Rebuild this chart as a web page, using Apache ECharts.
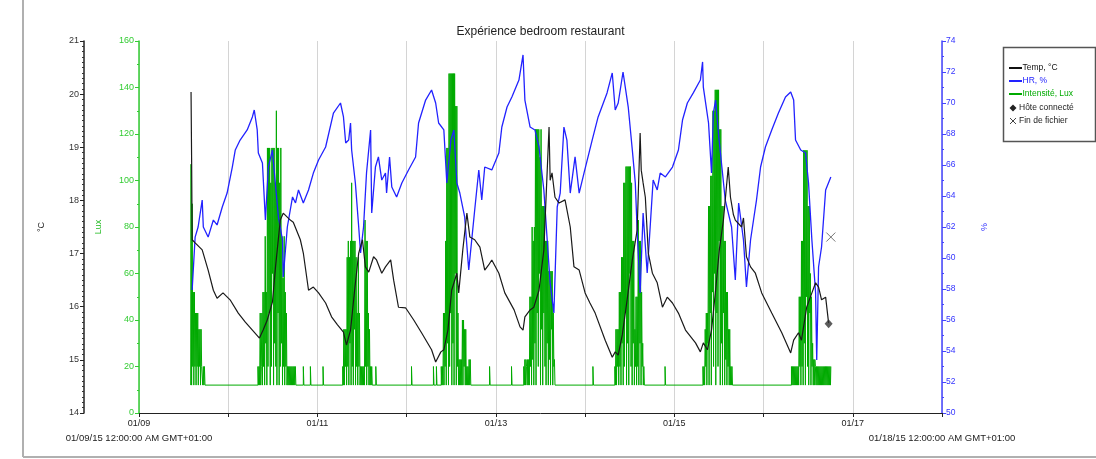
<!DOCTYPE html>
<html><head><meta charset="utf-8">
<script src="https://cdn.jsdelivr.net/npm/echarts@6/dist/echarts.min.js"></script>
<style>html,body{margin:0;padding:0;background:#fff}#c{width:1096px;height:459px}</style>
</head><body><div id="c"></div>
<script>
const chartTitle = 'Expérience bedroom restaurant';
const xTickLabels = ['01/09','','01/11','','01/13','','01/15','','01/17',''];
const xStartLabel = '01/09/15 12:00:00 AM GMT+01:00';
const xEndLabel = '01/18/15 12:00:00 AM GMT+01:00';
const seriesNames = ['Temp, °C','HR, %','Intensité, Lux','Hôte connecté','Fin de fichier'];
const axisNames = ['°C','Lux','%'];
// x values: hours since 01/09/15 00:00
const tempData = [
[14.0,20.04],[14.15,18.8],[14.3,17.26],[15.1,17.20],[17.0,17.07],[18.6,16.69],[20.0,16.31],[21.0,16.16],[22.6,16.26],[24.5,16.13],[26.7,15.88],[28.6,15.71],[30.5,15.56],[32.4,15.41],[33.4,15.56],[34.5,15.75],[35.9,16.09],[36.7,16.73],[38.0,17.63],[38.8,17.76],[40.7,17.63],[41.5,17.59],[43.4,17.26],[44.2,17.01],[45.6,16.31],[46.9,16.37],[48.3,16.26],[50.2,16.07],[51.8,15.81],[53.4,15.66],[55.0,15.52],[55.8,15.28],[56.9,15.56],[58.0,16.31],[59.1,17.01],[60.1,17.26],[60.9,16.75],[61.8,16.65],[63.1,16.94],[63.9,16.88],[65.3,16.63],[66.3,16.75],[67.7,16.88],[68.5,16.50],[69.8,15.99],[71.7,15.98],[73.9,15.75],[76.0,15.51],[78.7,15.19],[79.8,14.96],[81.2,15.15],[82.0,15.19],[83.1,15.56],[84.1,16.31],[85.5,16.63],[86.0,16.26],[87.1,17.07],[88.2,17.76],[89.0,17.31],[90.3,17.26],[91.7,17.12],[93.0,16.69],[94.1,16.79],[94.9,16.88],[96.8,16.63],[98.4,16.26],[100.9,15.94],[102.5,15.62],[103.3,15.56],[103.8,15.81],[105.2,15.94],[106.2,15.99],[107.6,16.31],[108.9,17.07],[110.3,19.38],[110.6,18.38],[111.1,18.52],[111.9,18.06],[113.0,17.95],[114.6,18.01],[116.0,17.50],[117.0,16.75],[118.4,16.69],[120.0,16.26],[121.3,16.07],[122.7,15.88],[125.4,15.37],[127.3,15.05],[128.1,15.15],[128.9,15.09],[130.0,15.47],[131.3,16.13],[132.7,16.88],[134.0,17.44],[134.8,19.27],[135.1,18.57],[135.6,18.33],[136.2,18.06],[137.0,17.01],[138.1,16.63],[139.4,16.45],[140.8,15.99],[142.1,16.18],[143.5,16.07],[145.1,15.88],[147.0,15.56],[149.7,15.32],[151.0,15.15],[151.8,15.32],[152.9,15.19],[154.0,15.56],[155.1,16.31],[156.1,17.07],[157.2,17.63],[158.5,18.63],[159.1,18.06],[159.9,17.73],[160.4,17.63],[162.1,17.50],[162.6,17.67],[163.4,16.94],[164.5,16.75],[165.8,16.63],[167.5,16.26],[170.2,15.88],[172.9,15.51],[175.3,15.13],[176.1,15.37],[177.4,15.51],[178.2,15.37],[179.6,15.99],[181.0,16.26],[182.0,16.45],[182.8,16.37],[183.6,16.13],[184.7,16.18],[185.5,15.69]
];
const humidityData = [
[14.3,57.94],[15.1,61.35],[15.9,62.0],[17.0,63.74],[17.3,62.0],[18.6,61.35],[20.0,62.45],[21.0,62.13],[22.4,63.29],[23.7,64.19],[25.1,65.87],[25.9,66.97],[27.2,67.61],[29.1,68.26],[30.5,69.10],[31.0,69.55],[31.8,68.26],[32.1,66.77],[33.2,66.13],[34.0,62.45],[34.8,65.87],[35.9,66.97],[36.1,66.32],[37.5,62.65],[38.6,61.16],[38.8,58.77],[39.9,62.0],[41.3,63.94],[42.1,63.55],[42.9,64.39],[44.2,63.55],[45.6,64.39],[46.9,65.48],[48.3,66.32],[50.2,67.16],[52.3,69.35],[54.2,70.0],[55.0,69.10],[55.6,67.42],[56.4,67.61],[56.9,68.71],[57.2,66.97],[58.2,64.84],[59.1,62.0],[59.6,60.32],[60.4,62.0],[61.2,65.48],[62.3,68.26],[62.6,62.90],[63.6,65.87],[64.4,66.52],[65.3,65.03],[66.3,65.48],[66.6,64.19],[67.4,66.52],[68.0,64.58],[69.3,63.94],[70.7,64.84],[72.5,65.68],[74.4,66.52],[75.2,68.71],[77.1,70.19],[78.7,70.84],[79.8,70.0],[80.6,68.71],[82.0,68.26],[82.8,64.84],[83.9,67.61],[84.7,68.26],[85.5,64.84],[86.3,64.19],[87.6,62.65],[88.7,59.23],[89.5,61.16],[90.3,63.10],[91.4,65.68],[92.2,63.74],[93.0,65.87],[94.9,65.68],[96.8,66.77],[97.6,68.45],[99.0,69.74],[100.3,70.39],[102.2,71.48],[103.3,73.10],[103.8,70.19],[105.2,68.45],[106.5,68.26],[107.6,67.16],[108.9,64.39],[109.8,61.16],[110.6,58.39],[111.6,56.45],[112.5,63.29],[113.3,64.19],[114.3,68.45],[115.1,67.61],[116.0,64.19],[117.3,66.52],[118.4,64.19],[119.7,65.48],[121.9,67.61],[123.5,69.10],[125.9,70.65],[127.3,71.94],[128.1,69.55],[128.9,70.0],[130.2,72.0],[131.6,69.74],[132.7,66.97],[133.5,64.84],[134.0,61.81],[134.8,57.74],[135.6,62.90],[136.7,59.03],[137.5,62.0],[138.3,65.03],[139.4,64.39],[140.2,65.48],[141.6,65.23],[143.5,65.87],[145.1,66.97],[146.2,68.90],[147.5,70.0],[149.1,70.65],[151.0,71.48],[151.6,72.65],[151.8,71.03],[153.2,68.71],[154.0,65.48],[154.5,69.35],[155.1,70.19],[155.9,67.94],[157.7,63.74],[159.4,62.0],[160.4,58.58],[161.3,63.55],[162.6,61.16],[163.4,58.13],[164.5,61.16],[165.3,62.45],[166.1,63.74],[167.2,65.87],[168.5,67.16],[170.2,68.26],[172.0,69.35],[173.9,70.39],[175.3,70.71],[176.1,70.19],[176.6,67.61],[178.0,66.97],[179.3,66.77],[180.1,64.84],[181.0,61.16],[182.0,57.74],[182.3,53.42],[182.8,59.42],[183.6,60.71],[184.7,64.39],[186.1,65.23]
];
const luxData = [
[13.9,12],[14.0,107],[14.15,12],[14.3,90],[14.45,20],[14.6,52],[14.75,12],[14.9,52],[15.05,20],[15.2,43],[15.35,12],[15.5,43],[15.65,20],[15.8,43],[15.95,12],[16.1,36],[16.25,20],[16.4,36],[16.55,12],[16.7,36],[16.85,20],[17.0,20],[17.15,12],[17.3,20],[17.45,12],[17.6,20],[17.75,12],
[32.0,20],[32.15,12],[32.3,20],[32.45,12],[32.6,43],[32.75,12],[32.9,20],[33.05,43],[33.2,12],[33.35,52],[33.5,20],[33.65,52],[33.8,12],[33.95,76],[34.1,30],[34.25,52],[34.4,12],[34.55,114],[34.7,20],[34.85,114],[35.0,43],[35.15,114],[35.3,12],[35.45,99],[35.6,20],[35.75,114],[35.9,60],[36.05,114],[36.2,12],[36.35,114],[36.5,30],[36.65,99],[36.8,20],[36.95,130],[37.1,12],[37.25,114],[37.4,43],[37.55,114],[37.7,12],[37.85,99],[38.0,20],[38.15,114],[38.3,30],[38.45,76],[38.6,12],[38.75,58],[38.9,20],[39.05,76],[39.2,12],[39.35,52],[39.5,20],[39.65,43],[39.8,12],[39.95,20],[40.1,12],[40.25,20],[40.4,12],[40.55,20],[40.7,12],[40.85,20],[41.0,12],[41.15,20],[41.3,12],[41.45,20],[41.6,12],[41.75,20],[41.9,12],[42.05,20],[42.2,12],
[44.2,20],[44.35,12],[46.1,20],[46.25,12],[49.5,20],[49.65,12],
[54.8,20],[54.95,12],[55.1,36],[55.25,12],[55.4,36],[55.55,20],[55.7,36],[55.85,12],[56.0,67],[56.15,20],[56.3,74],[56.45,12],[56.6,67],[56.75,30],[56.9,74],[57.05,12],[57.2,99],[57.35,20],[57.5,74],[57.65,12],[57.8,74],[57.95,36],[58.1,74],[58.25,12],[58.4,67],[58.55,20],[58.7,43],[58.85,12],[59.0,67],[59.15,20],[59.3,43],[59.45,12],[59.6,20],[59.75,12],[59.9,20],[60.05,12],[60.2,20],[60.35,12],[60.5,20],[60.65,12],[60.8,83],[60.95,20],[61.1,74],[61.25,12],[61.4,74],[61.55,20],[61.7,43],[61.85,12],[62.0,36],[62.15,12],[62.3,20],[62.45,12],[62.6,20],[62.75,12],
[63.7,20],[63.85,12],[73.3,20],[73.45,12],[79.2,20],[79.35,12],[80.0,20],[80.15,12],
[81.3,20],[81.45,12],[81.6,20],[81.75,12],[81.9,43],[82.05,12],[82.2,43],[82.35,20],[82.5,74],[82.65,12],[82.8,114],[82.95,30],[83.1,114],[83.25,12],[83.4,146],[83.55,20],[83.7,146],[83.85,43],[84.0,146],[84.15,12],[84.3,146],[84.45,30],[84.6,146],[84.75,12],[84.9,146],[85.05,60],[85.2,132],[85.35,12],[85.5,132],[85.65,20],[85.8,43],[85.95,12],[86.1,23],[86.25,12],[86.4,23],[86.55,12],[86.7,23],[86.85,12],[87.0,40],[87.15,12],[87.3,40],[87.45,20],[87.6,36],[87.75,12],[87.9,36],[88.05,12],[88.2,20],[88.35,12],[88.5,20],[88.65,12],[88.8,23],[88.95,12],[89.1,23],[89.25,12],
[94.3,20],[94.45,12],[100.2,20],[100.35,12],
[103.5,20],[103.65,12],[103.8,23],[103.95,12],[104.1,23],[104.25,20],[104.4,12],[104.55,23],[104.7,12],[104.85,23],[105.0,12],[105.15,50],[105.3,20],[105.45,50],[105.6,12],[105.75,80],[105.9,23],[106.05,74],[106.2,12],[106.35,80],[106.5,30],[106.65,122],[106.8,12],[106.95,122],[107.1,43],[107.25,122],[107.4,20],[107.55,122],[107.7,60],[107.85,110],[108.0,12],[108.15,122],[108.3,36],[108.45,89],[108.6,12],[108.75,89],[108.9,43],[109.05,89],[109.2,20],[109.35,74],[109.5,12],[109.65,74],[109.8,30],[109.95,74],[110.1,12],[110.25,61],[110.4,23],[110.55,61],[110.7,12],[110.85,61],[111.0,36],[111.15,61],[111.3,12],[111.45,43],[111.6,20],[111.75,23],[111.9,12],
[122.1,20],[122.25,12],
[128.0,20],[128.15,12],[128.3,36],[128.45,12],[128.6,36],[128.75,20],[128.9,36],[129.05,12],[129.2,52],[129.35,20],[129.5,52],[129.65,12],[129.8,67],[129.95,30],[130.1,67],[130.25,12],[130.4,99],[130.55,20],[130.7,99],[130.85,43],[131.0,106],[131.15,12],[131.3,106],[131.45,30],[131.6,106],[131.75,12],[131.9,106],[132.05,60],[132.2,106],[132.35,20],[132.5,99],[132.65,12],[132.8,74],[132.95,30],[133.1,74],[133.25,12],[133.4,36],[133.55,20],[133.7,50],[133.85,12],[134.0,50],[134.15,20],[134.3,83],[134.45,12],[134.6,74],[134.75,30],[134.9,74],[135.05,12],[135.2,52],[135.35,20],[135.5,30],[135.65,12],[135.8,20],[135.95,12],
[141.5,20],[141.65,12],
[151.7,20],[151.85,12],[152.0,20],[152.15,12],[152.3,36],[152.45,20],[152.6,43],[152.75,12],[152.9,43],[153.05,30],[153.2,89],[153.35,12],[153.5,89],[153.65,43],[153.8,102],[153.95,12],[154.1,102],[154.25,52],[154.4,130],[154.55,20],[154.7,130],[154.85,60],[155.0,139],[155.15,12],[155.3,139],[155.45,43],[155.6,139],[155.75,20],[155.9,139],[156.05,74],[156.2,122],[156.35,12],[156.5,122],[156.65,30],[156.8,89],[156.95,12],[157.1,89],[157.25,43],[157.4,74],[157.55,12],[157.7,74],[157.85,23],[158.0,52],[158.15,12],[158.3,52],[158.45,20],[158.6,36],[158.75,12],[158.9,36],[159.05,12],[159.2,20],[159.35,12],[159.5,20],[159.65,12],
[175.5,20],[175.65,12],[175.8,20],[175.95,12],[176.1,20],[176.25,12],[176.4,20],[176.55,12],[176.7,20],[176.85,12],[177.0,20],[177.15,12],[177.3,20],[177.45,12],[177.6,50],[177.75,20],[177.9,50],[178.05,12],[178.2,74],[178.35,20],[178.5,74],[178.65,12],[178.8,113],[178.95,30],[179.1,113],[179.25,12],[179.4,113],[179.55,50],[179.7,113],[179.85,20],[180.0,89],[180.15,12],[180.3,89],[180.45,43],[180.6,60],[180.75,12],[180.9,50],[181.05,20],[181.2,30],[181.35,12],[181.5,23],[181.65,12],[181.8,23],[181.95,20],[182.1,12],[182.25,20],[182.4,12],[182.55,20],[182.7,12],[182.85,20],[183.0,12],[183.15,20],[183.3,12],[183.45,20],[183.6,12],[183.75,20],[183.9,12],[184.05,20],[184.2,12],[184.35,20],[184.5,12],[184.65,20],[184.8,12],[184.95,20],[185.1,12],[185.25,20],[185.4,12],[185.55,20],[185.7,12],[185.85,20],[186.0,12],[186.1,20]
];
const hostConnected = [[185.5, 15.68]];
const endOfFile = [[186.1, 61.35]];

const FONT = 'Liberation Sans, Arial, sans-serif';
const chart = echarts.init(document.getElementById('c'), null, {renderer:'canvas'});
const legendRows = [
  {name: seriesNames[0], color:'#111', mark:'line', y:68},
  {name: seriesNames[1], color:'#2222ff', mark:'line', y:81},
  {name: seriesNames[2], color:'#00aa00', mark:'line', y:94},
  {name: seriesNames[3], color:'#222', mark:'diamond', y:108},
  {name: seriesNames[4], color:'#222', mark:'cross', y:121}
];
const legendGraphics = [{type:'rect', shape:{x:1003.5,y:47.5,width:92,height:94}, style:{fill:'#fff', stroke:'#555', lineWidth:1.5}, z:100}];
legendRows.forEach(r => {
  if (r.mark === 'line') legendGraphics.push({type:'line', shape:{x1:1009,y1:r.y,x2:1022,y2:r.y}, style:{stroke:r.color, lineWidth:2}, z:101});
  else if (r.mark === 'diamond') legendGraphics.push({type:'polygon', shape:{points:[[1013,r.y-3.5],[1016.5,r.y],[1013,r.y+3.5],[1009.5,r.y]]}, style:{fill:'#222'}, z:101});
  else legendGraphics.push({type:'polyline', shape:{points:[[1010,r.y-3],[1016,r.y+3]]}, style:{stroke:'#444', lineWidth:1}, z:101},
                           {type:'polyline', shape:{points:[[1016,r.y-3],[1010,r.y+3]]}, style:{stroke:'#444', lineWidth:1}, z:101});
  legendGraphics.push({type:'text', x: r.mark==='line'?1022.5:1019, y:r.y, style:{text:r.name, fill:r.color, font:'8.5px '+FONT, verticalAlign:'middle', align:'left'}, z:101});
});

chart.setOption({
  animation:false,
  backgroundColor:'#fff',
  grid:{left:139, right:154, top:41, bottom:46, containLabel:false},
  xAxis:{type:'value', min:0, max:216, interval:24,
    axisLine:{onZero:false, lineStyle:{color:'#222', width:1}},
    axisTick:{show:true, length:4, lineStyle:{color:'#222'}},
    axisLabel:{color:'#222', fontSize:9, fontFamily:FONT, margin:6, showMaxLabel:true, showMinLabel:true,
      formatter:v => xTickLabels[Math.round(v/24)] || ''},
    splitLine:{show:true, lineStyle:{color:'#d4d4d4', width:1}}},
  yAxis:[
    {type:'value', position:'left', offset:55, min:14, max:21, interval:1,
     name:axisNames[0], nameLocation:'middle', nameRotate:90, nameGap:38,
     nameTextStyle:{color:'#222', fontSize:9, fontFamily:FONT},
     axisLine:{show:true, onZero:false, lineStyle:{color:'#222', width:1.5}},
     axisTick:{show:true, length:4, lineStyle:{color:'#222'}},
     minorTick:{show:true, splitNumber:10, length:2, lineStyle:{color:'#333'}},
     axisLabel:{color:'#333', fontSize:9, fontFamily:FONT, margin:5},
     splitLine:{show:false}, minorSplitLine:{show:false}},
    {type:'value', position:'left', offset:0, min:0, max:160, interval:20,
     name:axisNames[1], nameLocation:'middle', nameRotate:90, nameGap:36,
     nameTextStyle:{color:'#22bb22', fontSize:9, fontFamily:FONT},
     axisLine:{show:true, onZero:false, lineStyle:{color:'#33cc33', width:1.5}},
     axisTick:{show:true, length:4, lineStyle:{color:'#33cc33'}},
     minorTick:{show:true, splitNumber:2, length:2, lineStyle:{color:'#33cc33'}},
     axisLabel:{color:'#33cc33', fontSize:9, fontFamily:FONT, margin:5},
     splitLine:{show:false}},
    {type:'value', position:'right', offset:0, min:50, max:74, interval:2,
     name:axisNames[2], nameLocation:'middle', nameRotate:90, nameGap:38,
     nameTextStyle:{color:'#3333ff', fontSize:9, fontFamily:FONT},
     axisLine:{show:true, onZero:false, lineStyle:{color:'#4444ff', width:1.5}},
     axisTick:{show:true, length:4, lineStyle:{color:'#4444ff'}},
     minorTick:{show:true, splitNumber:2, length:2, lineStyle:{color:'#4444ff'}},
     axisLabel:{color:'#3333ff', fontSize:8.5, fontFamily:FONT, margin:4},
     splitLine:{show:false}}
  ],
  graphic:[
    {type:'line', shape:{x1:23,y1:0,x2:23,y2:457}, style:{stroke:'#b0b0b0', lineWidth:2}},
    {type:'line', shape:{x1:23,y1:457,x2:1096,y2:457}, style:{stroke:'#b0b0b0', lineWidth:2}},
    {type:'text', x:540.5, y:32, style:{text:chartTitle, fill:'#222', font:'12px '+FONT, align:'center', verticalAlign:'middle'}},
    {type:'text', x:139, y:438, style:{text:xStartLabel, fill:'#222', font:'9.5px '+FONT, align:'center', verticalAlign:'middle'}},
    {type:'text', x:942, y:438, style:{text:xEndLabel, fill:'#222', font:'9.5px '+FONT, align:'center', verticalAlign:'middle'}}
  ].concat(legendGraphics),
  series:[
    {name:seriesNames[2], type:'line', yAxisIndex:1, data:luxData, step:'end', showSymbol:false, symbol:'none',
     lineStyle:{color:'#00aa00', width:1}, itemStyle:{color:'#00aa00'}, z:2},
    {name:seriesNames[1], type:'line', yAxisIndex:2, data:humidityData, showSymbol:false, symbol:'none',
     lineStyle:{color:'#2222ff', width:1.3}, itemStyle:{color:'#2222ff'}, z:3},
    {name:seriesNames[0], type:'line', yAxisIndex:0, data:tempData, showSymbol:false, symbol:'none',
     lineStyle:{color:'#1a1a1a', width:1.2}, itemStyle:{color:'#1a1a1a'}, z:4},
    {name:seriesNames[3], type:'scatter', yAxisIndex:0, data:hostConnected, symbol:'diamond', symbolSize:[8,9],
     itemStyle:{color:'#333'}, z:5},
    {name:seriesNames[4], type:'scatter', yAxisIndex:2, data:endOfFile, symbol:'path://M0,0L10,10M10,0L0,10', symbolSize:9,
     itemStyle:{color:'none', borderColor:'#555', borderWidth:1}, z:5}
  ]
});
</script></body></html>
